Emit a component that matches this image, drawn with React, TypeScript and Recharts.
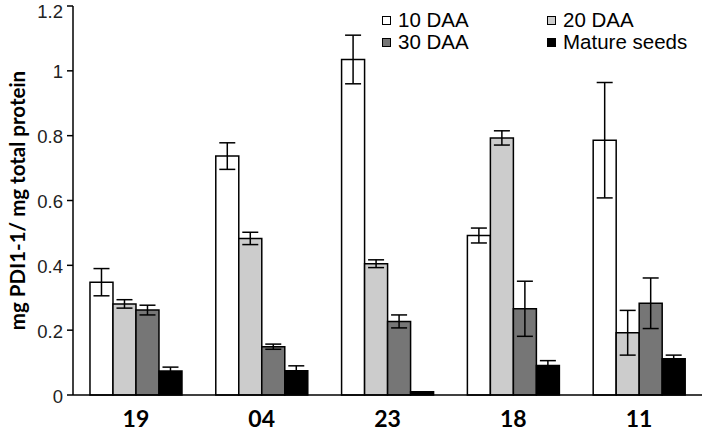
import { BarChart, Bar, XAxis, YAxis, ErrorBar } from 'recharts';

const categories = ['19', '04', '23', '18', '11'];
const daa10 = [0.348, 0.737, 1.035, 0.492, 0.786];
const daa10Err = [0.042, 0.041, 0.075, 0.023, 0.178];
const daa20 = [0.281, 0.483, 0.405, 0.793, 0.192];
const daa20Err = [0.013, 0.019, 0.012, 0.022, 0.069];
const daa30 = [0.262, 0.149, 0.227, 0.266, 0.283];
const daa30Err = [0.015, 0.008, 0.02, 0.085, 0.078];
const mature = [0.074, 0.075, 0.01, 0.091, 0.112];
const matureErr = [0.012, 0.015, 0, 0.015, 0.011];
const yTicks = [0, 0.2, 0.4, 0.6, 0.8, 1, 1.2];

const series = [
  { key: 'd10', name: '10 DAA', fill: '#ffffff' },
  { key: 'd20', name: '20 DAA', fill: '#cccccc' },
  { key: 'd30', name: '30 DAA', fill: '#767676' },
  { key: 'mat', name: 'Mature seeds', fill: '#000000' },
];

const data = categories.map((c, i) => ({
  name: c,
  d10: daa10[i],
  d10e: daa10Err[i],
  d20: daa20[i],
  d20e: daa20Err[i],
  d30: daa30[i],
  d30e: daa30Err[i],
  mat: mature[i],
  mate: matureErr[i],
}));

function LegendBox() {
  return (
    <div
      style={{
        position: 'absolute',
        left: 382,
        top: 9,
        display: 'grid',
        gridTemplateColumns: '165px 160px',
        fontFamily: '"Liberation Sans", Arial, sans-serif',
        fontSize: 20.5,
        color: '#000',
        lineHeight: '22px',
      }}
    >
      {series.map((s) => (
        <div key={s.key} style={{ display: 'flex', alignItems: 'center' }}>
          <span
            style={{
              width: 7,
              height: 7,
              border: '1px solid #000',
              background: s.fill,
              marginRight: 7,
              display: 'inline-block',
            }}
          />
          <span>{s.name}</span>
        </div>
      ))}
    </div>
  );
}

function YLabel(props: any) {
  const vb = props.viewBox;
  const cx = 17;
  const cy = vb.y + vb.height / 2;
  return (
    <text
      x={cx}
      y={cy}
      transform={`rotate(-90 ${cx} ${cy})`}
      textAnchor="middle"
      dominantBaseline="central"
      style={{ fontFamily: 'Lato, "Open Sans", sans-serif', fontWeight: 700, fontSize: 20.5, fill: '#000' }}
    >
      mg PDI1-1/ mg total protein
    </text>
  );
}

// y tick label; the top one is nudged down so it stays inside the picture
function YTick(props: any) {
  const { x, y, payload } = props;
  const ty = Math.max(y + 1, 11);
  return (
    <text
      x={x}
      y={ty}
      textAnchor="end"
      dominantBaseline="central"
      style={{ fontFamily: '"Liberation Sans", Arial, sans-serif', fontSize: 18.5, fill: '#222' }}
    >
      {String(payload.value)}
    </text>
  );
}

export default function App() {
  return (
    <div style={{ position: 'absolute', left: 0, top: 0, width: 702, height: 433, background: '#fff' }}>
      <BarChart
        width={702}
        height={433}
        data={data}
        margin={{ top: 6, right: 0, bottom: 0, left: 0 }}
        barCategoryGap="13.5%"
        barGap={0}
      >
        <XAxis
          dataKey="name"
          axisLine={{ stroke: '#000', strokeWidth: 1.5 }}
          tickLine={false}
          height={38}
          tickMargin={10}
          tick={{ fontFamily: 'Lato, "Open Sans", sans-serif', fontWeight: 700, fontSize: 23, fill: '#000' }}
        />
        <YAxis
          width={73}
          domain={[0, 1.2]}
          ticks={yTicks}
          interval={0}
          axisLine={{ stroke: '#000', strokeWidth: 1.5 }}
          tickLine={{ stroke: '#000', strokeWidth: 1.5 }}
          tickSize={6}
          tickMargin={4}
          tick={YTick}
          label={{ content: YLabel }}
        />
        {series.map((s) => (
          <Bar
            key={s.key}
            dataKey={s.key}
            name={s.name}
            fill={s.fill}
            stroke="#000"
            strokeWidth={1.5}
            isAnimationActive={false}
          >
            <ErrorBar dataKey={`${s.key}e`} width={8} stroke="#000" strokeWidth={1.5} />
          </Bar>
        ))}
      </BarChart>
      <LegendBox />
    </div>
  );
}
